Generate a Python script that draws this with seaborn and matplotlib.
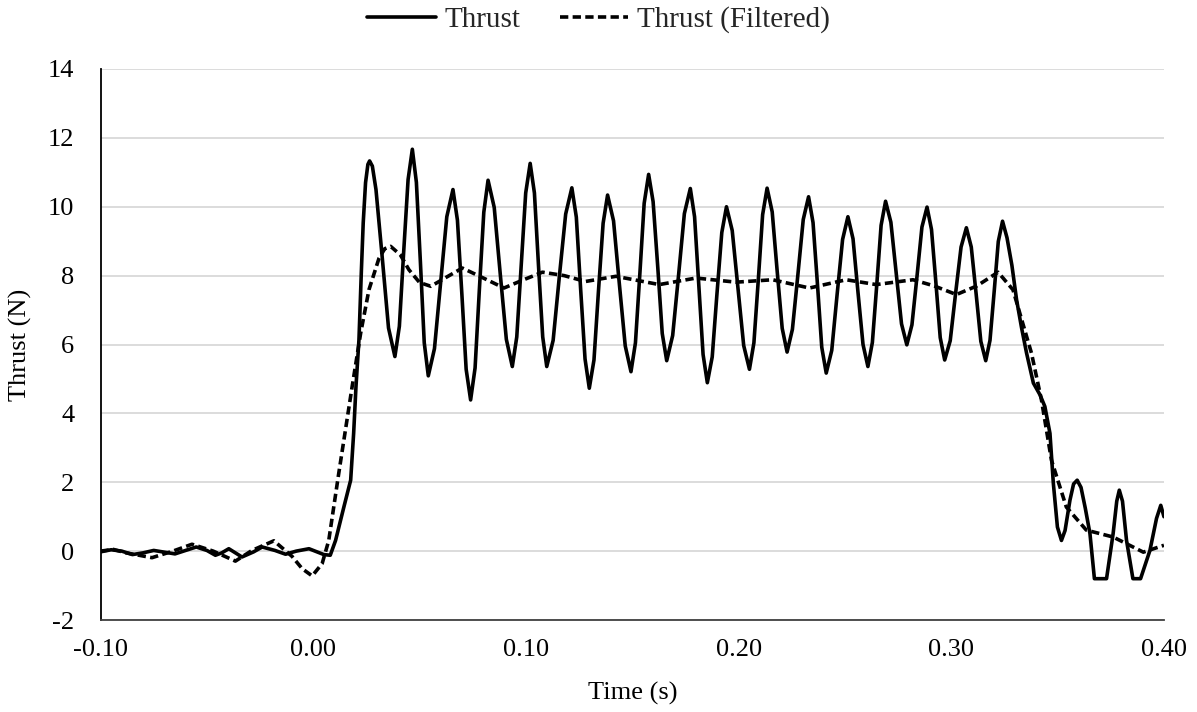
import pandas as pd
import matplotlib
matplotlib.use("Agg")
import matplotlib.pyplot as plt
import seaborn as sns

# ========================
# Data
# ========================

# raw thrust: time (s) and thrust (N)
thrust_time = [
    -0.100, -0.095, -0.090, -0.085, -0.080, -0.075, -0.070, -0.065, -0.060, -0.055,
    -0.050, -0.046, -0.043, -0.0397, -0.0335, -0.028, -0.024, -0.018, -0.013, -0.008,
    -0.002, 0.005, 0.008, 0.0105, 0.0144, 0.0176, 0.0190, 0.0201, 0.0215, 0.0226,
    0.0235, 0.0246, 0.0257, 0.0265, 0.0278,
    0.0295, 0.0325, 0.0354, 0.0384, 0.0405, 0.0425, 0.0446, 0.0466, 0.0485, 0.0504,
    0.0522, 0.0541, 0.0570, 0.0599, 0.0628, 0.0657, 0.0678, 0.0699, 0.0719, 0.0740,
    0.0761, 0.0781, 0.0802, 0.0822, 0.0851, 0.0879, 0.0908, 0.0936, 0.0957, 0.0978,
    0.0999, 0.1020, 0.1040, 0.1059, 0.1079, 0.1098, 0.1128, 0.1157, 0.1187, 0.1216,
    0.1237, 0.1257, 0.1278, 0.1298, 0.1320, 0.1341, 0.1363, 0.1384, 0.1412, 0.1439,
    0.1467, 0.1494, 0.1515, 0.1536, 0.1556, 0.1577, 0.1598, 0.1620, 0.1641, 0.1662,
    0.1690, 0.1718, 0.1745, 0.1773, 0.1793, 0.1813, 0.1833, 0.1853, 0.1876, 0.1898,
    0.1921, 0.1943, 0.1970, 0.1997, 0.2024, 0.2051, 0.2072, 0.2093, 0.2113, 0.2134,
    0.2158, 0.2181, 0.2205, 0.2228, 0.2253, 0.2279, 0.2304, 0.2329, 0.2350, 0.2371,
    0.2391, 0.2412, 0.2438, 0.2463, 0.2489, 0.2514, 0.2538, 0.2561, 0.2585, 0.2608,
    0.2629, 0.2650, 0.2670, 0.2691, 0.2716, 0.2741, 0.2766, 0.2791, 0.2815, 0.2839,
    0.2862, 0.2886, 0.2907, 0.2928, 0.2948, 0.2969, 0.2995, 0.3020, 0.3046, 0.3071,
    0.3094, 0.3117, 0.3139, 0.3162, 0.3182, 0.3202, 0.3221, 0.3241, 0.3262, 0.3285,
    0.3307, 0.3330, 0.3354, 0.3386, 0.3417, 0.3440, 0.3464, 0.3480, 0.3499, 0.3518,
    0.3535, 0.3558, 0.3575, 0.3592, 0.3610, 0.3630, 0.3652, 0.3673, 0.3730, 0.3761,
    0.3778, 0.3790, 0.3805, 0.3824, 0.3854, 0.3890, 0.3934, 0.3965, 0.3985, 0.4000,
]
thrust_value = [
    -0.02, 0.04, 0.00, -0.10, -0.05, 0.02, -0.03, -0.08, 0.02, 0.12,
    0.02, -0.12, -0.05, 0.07, -0.17, -0.02, 0.12, 0.02, -0.09, 0.00,
    0.07, -0.10, -0.12, 0.31, 1.28, 2.06, 3.42, 4.78, 6.14, 8.08,
    9.53, 10.70, 11.23, 11.33, 11.18,
    10.50, 8.49, 6.48, 5.65, 6.53, 8.66, 10.79, 11.67, 10.71, 8.38,
    6.05, 5.09, 5.88, 7.80, 9.71, 10.50, 9.61, 7.45, 5.28, 4.39,
    5.32, 7.58, 9.84, 10.77, 9.98, 8.07, 6.15, 5.36, 6.22, 8.31,
    10.40, 11.26, 10.40, 8.31, 6.22, 5.36, 6.12, 7.96, 9.79, 10.55,
    9.70, 7.64, 5.58, 4.73, 5.55, 7.54, 9.52, 10.34, 9.59, 7.78,
    5.96, 5.21, 6.05, 8.08, 10.10, 10.94, 10.15, 8.24, 6.32, 5.53,
    6.26, 8.03, 9.80, 10.53, 9.71, 7.71, 5.71, 4.89, 5.64, 7.45,
    9.25, 10.00, 9.31, 7.64, 5.97, 5.28, 6.05, 7.91, 9.77, 10.54,
    9.85, 8.16, 6.47, 5.78, 6.44, 8.04, 9.63, 10.29, 9.54, 7.73,
    5.92, 5.17, 5.83, 7.44, 9.05, 9.71, 9.07, 7.54, 6.00, 5.36,
    6.06, 7.76, 9.46, 10.16, 9.55, 8.08, 6.60, 5.99, 6.57, 7.99,
    9.41, 9.99, 9.34, 7.77, 6.20, 5.55, 6.11, 7.47, 8.83, 9.39,
    8.83, 7.46, 6.09, 5.53, 6.12, 7.56, 8.99, 9.58, 9.10, 8.30,
    7.30, 6.50, 5.75, 4.88, 4.54, 4.20, 3.42, 1.96, 0.70, 0.31,
    0.60, 1.48, 1.95, 2.06, 1.85, 1.25, 0.51, -0.80, -0.80, 0.51,
    1.45, 1.77, 1.45, 0.31, -0.80, -0.80, 0.02, 0.95, 1.33, 1.00,
]

# filtered thrust
filtered_time = [
    -0.100, -0.094, -0.088, -0.0758, -0.066, -0.057, -0.047, -0.0366, -0.0288, -0.0185,
    -0.010, -0.0052, -0.0005, 0.0042, 0.0073, 0.012, 0.0183, 0.0223, 0.0262, 0.0309,
    0.0336, 0.0364, 0.041, 0.045, 0.050, 0.0553, 0.0625, 0.0701, 0.080, 0.0897,
    0.0985, 0.1078, 0.118, 0.128, 0.1423, 0.1627, 0.180, 0.1988, 0.216, 0.2333,
    0.2506, 0.2647, 0.282, 0.292, 0.3024, 0.312, 0.322, 0.329, 0.3377, 0.3424,
    0.3471, 0.3541, 0.3635, 0.3761, 0.3903, 0.400,
]
filtered_value = [
    0.00, 0.05, -0.05, -0.19, 0.00, 0.20, 0.00, -0.29, 0.02, 0.30,
    -0.15, -0.51, -0.72, -0.36, 0.31, 2.26, 4.78, 6.33, 7.59, 8.50,
    8.78, 8.85, 8.60, 8.17, 7.80, 7.69, 7.95, 8.22, 7.93, 7.64,
    7.87, 8.10, 8.00, 7.83, 7.98, 7.74, 7.93, 7.81, 7.88, 7.64,
    7.88, 7.74, 7.88, 7.70, 7.45, 7.70, 8.10, 7.59, 5.75, 4.39,
    2.64, 1.28, 0.61, 0.41, -0.03, 0.17,
]

x_ticks = [-0.10, 0.00, 0.10, 0.20, 0.30, 0.40]
y_ticks = [-2, 0, 2, 4, 6, 8, 10, 12, 14]

df = pd.concat([
    pd.DataFrame({"Time": thrust_time, "Thrust": thrust_value, "Series": "Thrust"}),
    pd.DataFrame({"Time": filtered_time, "Thrust": filtered_value, "Series": "Thrust (Filtered)"}),
], ignore_index=True)

# ========================
# Plot
# ========================
sns.set_theme(style="white")
plt.rcParams["font.family"] = ["Liberation Serif", "DejaVu Serif"]

fig = plt.figure(figsize=(11.97, 7.12), dpi=100)
ax = fig.add_axes([0.0840, 0.1292, 0.8884, 0.7739])

sns.lineplot(data=df, x="Time", y="Thrust", style="Series",
             dashes={"Thrust": "", "Thrust (Filtered)": (2.3, 1.2)},
             color="black", linewidth=2.6, estimator=None, sort=False, ax=ax)

ax.set_xlim(-0.10, 0.40)
ax.set_ylim(-2, 14)
ax.set_xticks(x_ticks)
ax.set_xticklabels([f"{t:.2f}" for t in x_ticks])
ax.set_yticks(y_ticks)
ax.set_yticklabels([str(v) for v in y_ticks])
ax.tick_params(axis="both", labelsize=19, length=0, colors="black")
ax.tick_params(axis="y", pad=19)
ax.tick_params(axis="x", pad=14)

ax.yaxis.grid(True, color="#d9d9d9", linewidth=1.3)
ax.xaxis.grid(False)
ax.set_axisbelow(True)
for side in ["top", "right"]:
    ax.spines[side].set_visible(False)
ax.spines["left"].set_color("black")
ax.spines["left"].set_linewidth(1.3)
ax.spines["bottom"].set_color("#404040")
ax.spines["bottom"].set_linewidth(1.3)

ax.set_xlabel("Time (s)", fontsize=19, color="black")
ax.set_ylabel("Thrust (N)", fontsize=19, color="black")
ax.xaxis.set_label_coords(0.5, -0.112)
ax.yaxis.set_label_coords(-0.064, 0.5)

handles, labels = ax.get_legend_handles_labels()
ax.get_legend().remove()
fig.legend(handles, labels, loc="center", bbox_to_anchor=(0.5, 0.972), ncol=2,
           frameon=False, fontsize=21, handlelength=2.35, handletextpad=0.3,
           columnspacing=1.35)

fig.savefig("out.png", dpi=100)
